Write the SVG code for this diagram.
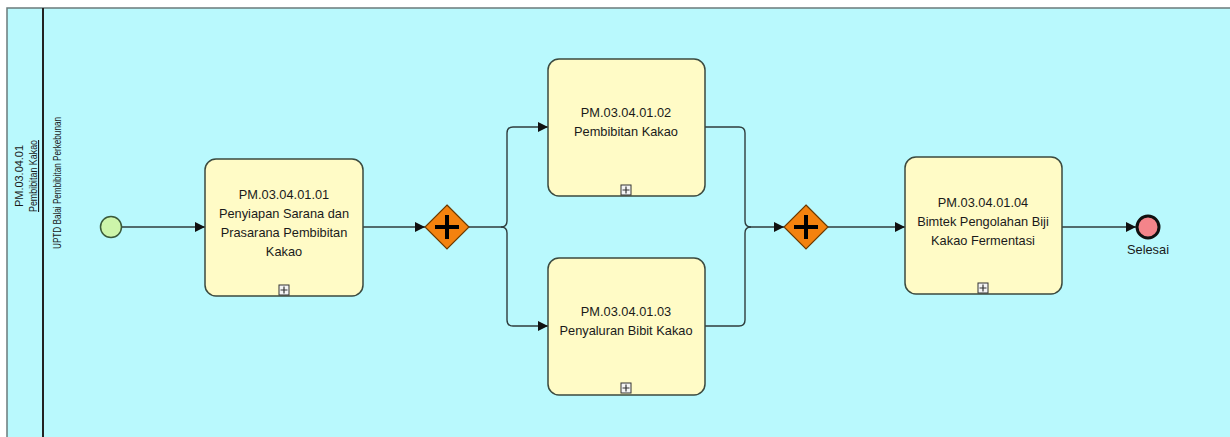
<svg xmlns="http://www.w3.org/2000/svg" width="1230" height="437" viewBox="0 0 1230 437">
<defs>
<style>
.txt{font-family:"Liberation Sans",Arial,sans-serif;font-size:12.8px;fill:#1a1a1a;text-anchor:middle}
.lbl{font-family:"Liberation Sans",Arial,sans-serif;font-size:11px;fill:#1a1a1a;text-anchor:middle}
.task{fill:#FFFBC6;stroke:#3b4a3f;stroke-width:1.5}
.gw{fill:#F4820E;stroke:#6b3a00;stroke-width:1.2}
.plus{stroke:#000;stroke-width:4;fill:none}
.conn{fill:none;stroke:#2f3d3d;stroke-width:1.4}
.mk{fill:#f4f4f4;stroke:#333;stroke-width:1}
</style>
<marker id="arr" viewBox="0 0 10 10" refX="10" refY="5" markerWidth="10" markerHeight="10" markerUnits="userSpaceOnUse" orient="auto">
<path d="M0,0 L10,5 L0,10 z" fill="#111"/>
</marker>
<g id="sub">
<rect x="-5" y="-5" width="10" height="10" class="mk"/>
<path d="M-3.5,0 H3.5 M0,-3.5 V3.5" stroke="#333" stroke-width="1.2"/>
</g>
</defs>
<rect x="0" y="0" width="1230" height="437" fill="#ffffff"/>
<g id="pool">
<rect x="7" y="8" width="1230" height="440" fill="#B9F9FD" stroke="#6b7b7b" stroke-width="1.5"/>
<line x1="43" y1="8" x2="43" y2="437" stroke="#222" stroke-width="2"/>
<text class="lbl" transform="translate(23,176) rotate(-90)" textLength="62" lengthAdjust="spacingAndGlyphs">PM.03.04.01</text>
<text class="lbl" transform="translate(37,176) rotate(-90)" text-decoration="underline" textLength="72" lengthAdjust="spacingAndGlyphs">Pembibitan Kakao</text>
<text class="lbl" transform="translate(61,183) rotate(-90)" textLength="132" lengthAdjust="spacingAndGlyphs">UPTD Balai Pembibitan Perkebunan</text>
</g>
<g id="connectors">
<path class="conn" d="M121,227 H205" marker-end="url(#arr)"/>
<path class="conn" d="M363,227 H425" marker-end="url(#arr)"/>
<path class="conn" d="M469,227 H501 Q507,227 507,221 V133 Q507,127 513,127 H548" marker-end="url(#arr)"/>
<path class="conn" d="M501,227 Q507,227 507,233 V320 Q507,326 513,326 H548" marker-end="url(#arr)"/>
<path class="conn" d="M705,127 H739 Q745,127 745,133 V221 Q745,227 751,227 H784" marker-end="url(#arr)"/>
<path class="conn" d="M705,326 H739 Q745,326 745,320 V233 Q745,227 751,227"/>
<path class="conn" d="M828,227 H905" marker-end="url(#arr)"/>
<path class="conn" d="M1062,227 H1136" marker-end="url(#arr)"/>
</g>
<g id="start">
<circle cx="111" cy="227" r="10.5" fill="#CDF5AA" stroke="#3a5a3a" stroke-width="1.5"/>
</g>
<g id="task1">
<rect x="205" y="159" width="158" height="137" rx="11" class="task"/>
<text class="txt" x="284" y="199">PM.03.04.01.01</text>
<text class="txt" x="284" y="218">Penyiapan Sarana dan</text>
<text class="txt" x="284" y="237">Prasarana Pembibitan</text>
<text class="txt" x="284" y="256">Kakao</text>
<use href="#sub" x="284" y="290"/>
</g>
<g id="gateway1">
<path d="M447,205 L469,227 L447,249 L425,227 z" class="gw"/>
<path d="M447,215 V239 M435,227 H459" class="plus"/>
</g>
<g id="task2">
<rect x="548" y="59" width="157" height="137" rx="11" class="task"/>
<text class="txt" x="626" y="117">PM.03.04.01.02</text>
<text class="txt" x="626" y="136">Pembibitan Kakao</text>
<use href="#sub" x="626" y="190"/>
</g>
<g id="task3">
<rect x="548" y="258" width="157" height="137" rx="11" class="task"/>
<text class="txt" x="626" y="316">PM.03.04.01.03</text>
<text class="txt" x="626" y="335">Penyaluran Bibit Kakao</text>
<use href="#sub" x="626" y="388"/>
</g>
<g id="gateway2">
<path d="M806,205 L828,227 L806,249 L784,227 z" class="gw"/>
<path d="M806,215 V239 M794,227 H818" class="plus"/>
</g>
<g id="task4">
<rect x="905" y="157" width="157" height="137" rx="11" class="task"/>
<text class="txt" x="983" y="207">PM.03.04.01.04</text>
<text class="txt" x="983" y="226">Bimtek Pengolahan Biji</text>
<text class="txt" x="983" y="245">Kakao Fermentasi</text>
<use href="#sub" x="983" y="288"/>
</g>
<g id="end">
<circle cx="1148" cy="227" r="11" fill="#F4848A" stroke="#111" stroke-width="3"/>
<text class="txt" x="1148" y="254">Selesai</text>
</g>
</svg>
